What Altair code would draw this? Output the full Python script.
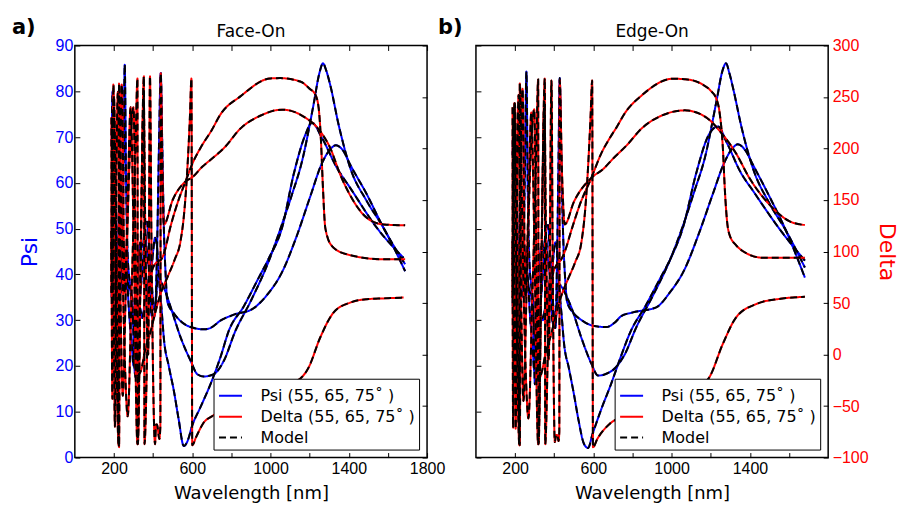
import altair as alt
import pandas as pd

# ---------------- data ----------------
# Panel a) Face-On : Psi curves (three angles)
psi_a1_lam = [188, 193, 200, 210, 216, 226, 238, 250, 265, 280, 292, 300, 310, 322, 335, 348, 358, 366, 376, 388,
              400, 410, 420, 432, 444, 455, 480, 506, 530, 557, 575, 600, 642, 693, 744, 787, 863, 940, 991, 1059,
              1118, 1178, 1212, 1263, 1339, 1407, 1543, 1680]
psi_a1_val = [45, 62, 30, 12.5, 25, 45, 50, 46, 40, 30, 24, 20, 28, 40, 47, 46, 50, 46, 42, 40,
              45, 48, 46, 38, 32, 26, 20, 14.6, 8.5, 2.5, 3.5, 7, 11, 16, 21.9, 27.7, 33, 39.3, 43.5, 50.2,
              61.8, 70.5, 73.1, 69.8, 63.3, 58.9, 50.2, 43.6]
psi_a2_lam = [188, 195, 203, 210, 220, 235, 248, 255, 262, 270, 282, 294, 304, 311, 318, 330, 345, 358, 370, 380,
              392, 404, 414, 425, 439, 465, 490, 541, 592, 626, 660, 710, 761, 821, 897, 991, 1059, 1110, 1161, 1220,
              1250, 1268, 1285, 1305, 1348, 1407, 1492, 1577, 1688]
psi_a2_val = [35, 48, 68, 56, 40, 36, 60, 85.8, 60, 44, 38, 34.5, 20, 17.5, 25, 33, 30.5, 34, 35, 40,
              31, 30.5, 34, 40, 38.6, 36, 32.8, 26.2, 21.1, 18.2, 17.7, 18.2, 21.1, 27.7, 34, 42.9, 51, 57.5, 64.7, 77.1,
              84, 86.1, 84.5, 81.4, 72.7, 63.3, 56, 50.2, 40.7]
psi_a3_lam = [188, 193, 198, 205, 212, 220, 230, 240, 252, 262, 272, 285, 298, 310, 322, 335, 350, 362, 370, 378,
              388, 398, 410, 420, 430, 439, 446, 455, 464, 473, 506, 540, 592, 660, 693, 744, 812, 906, 982, 1059,
              1135, 1203, 1263, 1305, 1334, 1373, 1407, 1492, 1577, 1688]
psi_a3_val = [68, 80, 74, 45, 36, 44, 47, 42, 46, 42, 38, 36, 30, 27, 31, 36, 44, 51, 51.5, 47,
              42, 35, 32, 45, 68, 84, 70, 50, 40, 34, 31.5, 29.8, 28.5, 28, 28.3, 29.9, 31.2, 32.4, 35.5, 40.5,
              48.5, 57, 64.3, 67.3, 68.2, 66.9, 64, 57.5, 50.2, 42.2]

# Panel a) Face-On : Delta curves
del_a1_lam = [187, 192, 197, 210, 224, 226, 240, 258, 270, 290, 310, 320, 322, 338, 353, 356, 375, 392, 420, 440,
              455, 490, 530, 566, 600, 642, 700, 744, 846, 999, 1050, 1152, 1200, 1229, 1246, 1258, 1268, 1280, 1314, 1390,
              1577, 1688]
del_a1_val = [120, -43, 262, 40, -88, 263, 120, -20, -60, 60, 200, 268, -87, 120, 270, -87, 40, 80, 90, 92,
              98, 125, 150, 168, 185, 200.5, 218, 233, 250.6, 268, 268.3, 265, 258, 252.3, 239.3, 207, 161.8, 123, 105.3, 97.3,
              92.4, 92.4]
del_a2_lam = [187, 190, 194, 200, 212, 226, 232, 240, 255, 270, 285, 300, 320, 336, 352, 360, 375, 384, 392, 410,
              415, 420, 432, 437, 439, 447, 455, 500, 566, 600, 650, 700, 760, 850, 950, 1059, 1169, 1254, 1305, 1356,
              1424, 1492, 1577, 1688]
del_a2_val = [230, 60, 200, 250, 100, -90, 180, 262, 60, 150, 240, 120, -87, 80, 250, 120, 0, 270, 100, -87,
              -68, -68, -82, -70, 273, 180, 126, 150, 168, 172, 182, 190, 200, 220, 232, 237.7, 231, 216.7, 200.5, 174.8,
              149, 132.7, 126.3, 125.4]
del_a3_lam = [187, 191, 196, 205, 214, 220, 230, 245, 260, 280, 300, 310, 320, 337, 360, 384, 410, 440, 473, 510,
              540, 560, 575, 588, 596, 600, 620, 659, 700, 800, 900, 1000, 1100, 1195, 1254, 1322, 1407, 1492, 1580, 1680]
del_a3_val = [60, 230, 120, -70, 200, 255, 100, -40, 60, 190, 240, 110, -20, -16, 5, 20, 40, 60, 75, 92,
              110, 140, 180, 230, 268, -88, -80, -66, -60, -52, -45, -38, -30, -12.5, 16.5, 40.7, 50.4, 53.7, 54.5, 55.3]

# Panel b) Edge-On : Psi curves
psi_b1_lam = [188, 193, 200, 208, 216, 226, 238, 250, 265, 278, 290, 298, 308, 320, 333, 346, 356, 364, 374, 385,
              396, 406, 416, 426, 438, 450, 475, 500, 525, 552, 573, 595, 640, 690, 740, 790, 865, 940, 995, 1060,
              1125, 1190, 1236, 1285, 1350, 1420, 1550, 1681]
psi_b1_val = [42, 60, 28, 14, 24, 44, 49, 45, 39, 30, 24, 19, 27, 39, 46, 45, 49, 45, 41, 39,
              44, 47, 45, 37, 31, 25, 19.5, 14, 8, 3, 2.1, 5, 10.5, 16, 22, 27.5, 33, 39, 43.5, 50.5,
              62, 70.5, 72.3, 68.5, 62.5, 58, 50, 43]
psi_b2_lam = [188, 195, 202, 210, 220, 234, 250, 258, 265, 273, 284, 293, 301, 308, 316, 328, 342, 356, 367, 378,
              390, 403, 412, 420, 434, 460, 490, 540, 590, 624, 660, 710, 760, 820, 900, 995, 1065, 1115, 1170, 1230,
              1260, 1278, 1295, 1315, 1358, 1417, 1500, 1585, 1681]
psi_b2_val = [33, 50, 70, 55, 38, 35, 62, 84.3, 58, 43, 37, 33, 16, 17.1, 24, 32, 30, 33, 33, 39,
              30, 28.3, 32, 38, 37.5, 35.5, 32.5, 26, 20.5, 17.9, 18.2, 19.5, 22.5, 28.5, 35, 43.5, 51.5, 58, 65.5, 78,
              84.5, 86.1, 84, 80.5, 72, 63, 55.5, 49.5, 41.5]
psi_b3_lam = [188, 192, 197, 204, 211, 219, 229, 239, 250, 260, 270, 283, 296, 308, 320, 333, 348, 360, 369, 376,
              386, 395, 406, 414, 422, 428, 436, 446, 456, 466, 500, 540, 598, 666, 710, 743, 802, 921, 990, 1065,
              1140, 1210, 1270, 1310, 1338, 1378, 1415, 1500, 1585, 1681]
psi_b3_val = [66, 76, 72, 44, 35, 43, 46, 41, 45, 41, 37, 35, 29, 26, 30, 35, 44, 50, 50.8, 46,
              41, 33, 28.3, 42, 65, 82.9, 66, 48, 39, 34, 31.5, 30, 28.8, 28.5, 29.5, 30.9, 31.7, 32.8, 36, 41,
              49, 57.5, 64.5, 67.5, 68.4, 67, 64, 57, 49.5, 39.3]

# Panel b) Edge-On : Delta curves
del_b1_lam = [187, 190, 196, 208, 222, 224, 238, 256, 268, 288, 308, 318, 320, 336, 352, 354, 372, 390, 415, 435,
              454, 490, 530, 590, 640, 690, 717, 760, 850, 1006, 1080, 1159, 1200, 1227, 1245, 1262, 1272, 1283, 1295, 1330,
              1363, 1465, 1681]
del_b1_val = [110, -71, 244, 40, -88, 263, 115, -25, -62, 55, 195, 267, -87, 115, 268, -87, 35, 75, 88, 92,
              100, 122, 145, 171.5, 195, 212, 220, 234, 252, 267.7, 267, 262, 256, 249, 235, 200, 160, 130, 116.7, 106,
              100.5, 94, 94]
del_b2_lam = [187, 190, 193, 199, 210, 224, 230, 238, 253, 268, 283, 298, 318, 334, 350, 358, 372, 386, 392, 403,
              410, 416, 422, 426, 428, 440, 454, 500, 590, 650, 700, 770, 850, 950, 1066, 1170, 1261, 1330, 1397, 1499,
              1601, 1681]
del_b2_val = [240, 60, 190, 244, 95, -88, 175, 258, 55, 145, 235, 115, -87, 75, 245, 115, -5, 266, 95, -85,
              -78, -78, -84, -75, 266, 175, 126.3, 148, 171.5, 180, 190, 203, 220, 232, 237, 231, 213.5, 195, 171.5, 145.7,
              129.5, 125.7]
del_b3_lam = [187, 190, 195, 203, 212, 218, 228, 243, 258, 278, 298, 308, 318, 335, 358, 382, 408, 438, 470, 508,
              538, 558, 573, 586, 594, 598, 620, 683, 750, 850, 950, 1050, 1130, 1193, 1261, 1329, 1431, 1550, 1681]
del_b3_val = [55, 225, 115, -72, 195, 252, 95, -45, 55, 185, 238, 105, -25, -18, 3, 18, 38, 58, 73, 90,
              108, 140, 182, 232, 266, -90, -82, -67.4, -60, -52, -45, -38, -32, -22, 10, 35.9, 48.9, 54, 56]

psi_ticks = [0, 10, 20, 30, 40, 50, 60, 70, 80, 90]
delta_ticks = [-100, -50, 0, 50, 100, 150, 200, 250, 300]
x_ticks_a = [200, 400, 600, 800, 1000, 1200, 1400, 1600, 1800]
x_ticks_b = [200, 400, 600, 800, 1000, 1200, 1400, 1600]

KIND_PSI = "Psi (55, 65, 75˚ )"
KIND_DELTA = "Delta (55, 65, 75˚ )"
KIND_MODEL = "Model"
kinds = [KIND_PSI, KIND_DELTA, KIND_MODEL]

BLUE = "#0000ff"
RED = "#ff0000"


def frame(curves, kind):
    rows = []
    for name, lams, vals in curves:
        for l, v in zip(lams, vals, strict=True):
            rows.append({"lam": l, "val": v, "curve": name, "kind": kind})
    return pd.DataFrame(rows)


color_scale = alt.Scale(domain=kinds, range=[BLUE, RED, "black"])
dash_scale = alt.Scale(domain=kinds, range=[[1, 0], [1, 0], [7, 4]])
x_scale = alt.Scale(domain=[0, 1800], nice=False, zero=False)
psi_scale = alt.Scale(domain=[0, 90], nice=False, zero=False)
del_scale = alt.Scale(domain=[-100, 300], nice=False, zero=False)

legend = alt.Legend(title=None, orient="bottom-right", offset=8, symbolType="stroke", symbolSize=530,
                    symbolStrokeWidth=2, labelFont="DejaVu Sans", labelFontSize=16, labelColor="black",
                    fillColor="white", strokeColor="black", padding=4, rowPadding=0, labelOffset=17,
                    labelLimit=400, zindex=2)

TICK = dict(tickSize=5, offset=-5, tickColor="black", tickWidth=1, domain=False, grid=False,
            labelFlush=False, labelOverlap=False)


def panel(psi_curves, del_curves, tag, title, left_labels, right_labels, xvals, W=353, H=413):
    psi_df = frame(psi_curves, KIND_PSI)
    del_df = frame(del_curves, KIND_DELTA)
    psi_model = psi_df.assign(kind=KIND_MODEL)
    del_model = del_df.assign(kind=KIND_MODEL)

    x_bottom = alt.X("lam:Q", scale=x_scale, axis=alt.Axis(
        orient="bottom", values=xvals, format="d",
        labelExpr="datum.value % 400 == 200 ? datum.label : ''",
        labelFont="Liberation Sans", labelFontSize=16, labelColor="black", labelPadding=3,
        title="Wavelength [nm]", titleFont="DejaVu Sans", titleFontSize=18, titleFontWeight="normal",
        titleColor="black", titlePadding=8, **TICK))
    x_top = alt.X("lam:Q", scale=x_scale, axis=alt.Axis(
        orient="top", values=xvals, labels=False, title=None, **TICK))
    x_none = alt.X("lam:Q", scale=x_scale, axis=None)

    y_psi = alt.Y("val:Q", scale=psi_scale, axis=alt.Axis(
        orient="left", values=psi_ticks, format="d", labels=left_labels,
        labelFont="Liberation Sans", labelFontSize=16, labelColor=BLUE, labelPadding=2,
        title="Psi" if left_labels else None, titleFont="DejaVu Sans", titleFontSize=22,
        titleFontWeight="normal", titleColor=BLUE, titlePadding=14, **TICK))
    y_del = alt.Y("val:Q", scale=del_scale, axis=alt.Axis(
        orient="right", values=delta_ticks, format="d", labels=right_labels,
        labelFont="Liberation Sans", labelFontSize=16, labelColor=RED, labelPadding=4,
        title="Delta" if right_labels else None, titleFont="DejaVu Sans", titleFontSize=22,
        titleFontWeight="normal", titleColor=RED, titlePadding=6, **TICK))
    y_psi_none = alt.Y("val:Q", scale=psi_scale, axis=None)
    y_del_none = alt.Y("val:Q", scale=del_scale, axis=None)

    col = alt.Color("kind:N", scale=color_scale, legend=legend)
    dash = alt.StrokeDash("kind:N", scale=dash_scale, legend=legend)

    line = dict(strokeWidth=2, interpolate="monotone")
    l_psi = alt.Chart(psi_df).mark_line(**line).encode(
        x=x_bottom, y=y_psi, color=col, strokeDash=dash, detail="curve:N")
    l_psi_m = alt.Chart(psi_model).mark_line(**line).encode(
        x=x_none, y=y_psi_none, color=col, strokeDash=dash, detail="curve:N")
    l_del = alt.Chart(del_df).mark_line(**line).encode(
        x=x_top, y=y_del, color=col, strokeDash=dash, detail="curve:N")
    l_del_m = alt.Chart(del_model).mark_line(**line).encode(
        x=x_none, y=y_del_none, color=col, strokeDash=dash, detail="curve:N")

    tag_df = pd.DataFrame({"t": [tag[0]]})
    l_tag = alt.Chart(tag_df).mark_text(
        align="left", baseline="alphabetic", font="DejaVu Sans", fontSize=21, fontWeight="bold",
        color="black").encode(x=alt.value(tag[1]), y=alt.value(-11), text="t:N")
    title_df = pd.DataFrame({"t": [title]})
    l_title = alt.Chart(title_df).mark_text(
        align="center", baseline="alphabetic", font="DejaVu Sans", fontSize=17,
        color="black").encode(x=alt.value(W / 2), y=alt.value(-8), text="t:N")

    return alt.layer(l_psi, l_psi_m, l_del, l_del_m, l_tag, l_title).resolve_scale(
        y="independent").resolve_axis(x="independent", y="independent").properties(width=W, height=H)


pa = panel([("a55", psi_a1_lam, psi_a1_val), ("a65", psi_a2_lam, psi_a2_val), ("a75", psi_a3_lam, psi_a3_val)],
           [("a55", del_a1_lam, del_a1_val), ("a65", del_a2_lam, del_a2_val), ("a75", del_a3_lam, del_a3_val)],
           ("a)", -63), "Face-On", True, False, x_ticks_a)
pb = panel([("b55", psi_b1_lam, psi_b1_val), ("b65", psi_b2_lam, psi_b2_val), ("b75", psi_b3_lam, psi_b3_val)],
           [("b55", del_b1_lam, del_b1_val), ("b65", del_b2_lam, del_b2_val), ("b75", del_b3_lam, del_b3_val)],
           ("b)", -38), "Edge-On", False, True, x_ticks_b)

chart = alt.hconcat(pa, pb, spacing=49, bounds="flush").resolve_scale(
    color="independent", strokeDash="independent").resolve_legend(
    color="independent", strokeDash="independent").properties(
    padding={"left": 11, "top": 16, "right": 5, "bottom": 3}, background="white"
).configure_view(stroke="black", strokeWidth=1.5)

chart.save("out.html", embed_options={"renderer": "svg", "actions": False})
